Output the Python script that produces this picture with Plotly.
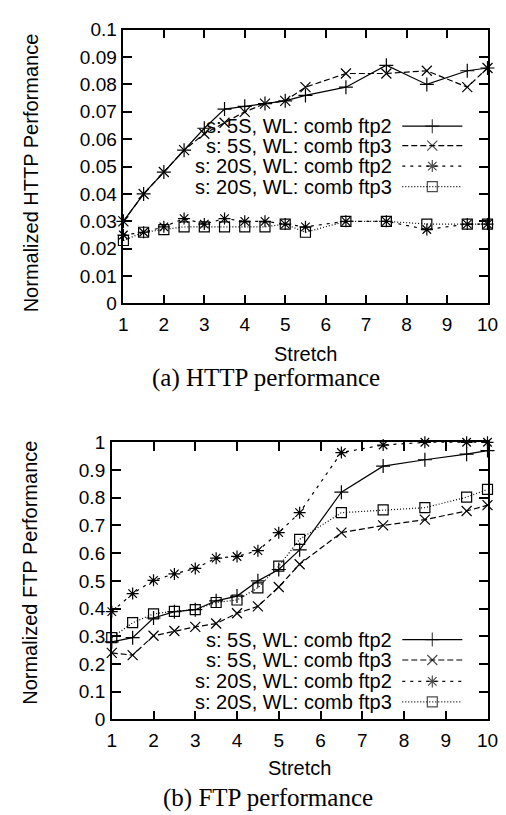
import plotly.graph_objects as go

W, H = 506, 815

stretch = [1, 1.5, 2, 2.5, 3, 3.5, 4, 4.5, 5, 5.5, 6.5, 7.5, 8.5, 9.5, 10]

# (a) HTTP performance
http_5s_ftp2 = [0.030, 0.040, 0.048, 0.056, 0.064, 0.071, 0.072, 0.073, 0.074, 0.076, 0.079, 0.087, 0.080, 0.085, 0.086]
http_5s_ftp3 = [0.030, 0.040, 0.048, 0.056, 0.062, 0.066, 0.070, 0.073, 0.074, 0.079, 0.084, 0.084, 0.085, 0.079, 0.086]
http_20s_ftp2 = [0.025, 0.026, 0.028, 0.031, 0.029, 0.031, 0.030, 0.030, 0.029, 0.028, 0.030, 0.030, 0.027, 0.029, 0.029]
http_20s_ftp3 = [0.023, 0.026, 0.027, 0.028, 0.028, 0.028, 0.028, 0.028, 0.029, 0.026, 0.030, 0.030, 0.029, 0.029, 0.029]

# (b) FTP performance
ftp_5s_ftp2 = [0.280, 0.295, 0.366, 0.389, 0.396, 0.428, 0.445, 0.500, 0.541, 0.612, 0.820, 0.914, 0.937, 0.957, 0.970]
ftp_5s_ftp3 = [0.240, 0.232, 0.302, 0.319, 0.334, 0.346, 0.383, 0.408, 0.478, 0.560, 0.674, 0.700, 0.721, 0.752, 0.773]
ftp_20s_ftp2 = [0.389, 0.454, 0.502, 0.525, 0.545, 0.582, 0.588, 0.609, 0.674, 0.746, 0.963, 0.990, 1.000, 1.000, 1.000]
ftp_20s_ftp3 = [0.295, 0.349, 0.381, 0.390, 0.396, 0.422, 0.431, 0.475, 0.553, 0.650, 0.746, 0.756, 0.764, 0.802, 0.830]

series_names = ["s: 5S, WL: comb ftp2", "s: 5S, WL: comb ftp3",
                "s: 20S, WL: comb ftp2", "s: 20S, WL: comb ftp3"]

x_ticks = [1, 2, 3, 4, 5, 6, 7, 8, 9, 10]
http_ticks = [0, 0.01, 0.02, 0.03, 0.04, 0.05, 0.06, 0.07, 0.08, 0.09, 0.1]
http_tick_text = ["0", "0.01", "0.02", "0.03", "0.04", "0.05", "0.06", "0.07", "0.08", "0.09", "0.1"]
ftp_ticks = [0, 0.1, 0.2, 0.3, 0.4, 0.5, 0.6, 0.7, 0.8, 0.9, 1]
ftp_tick_text = ["0", "0.1", "0.2", "0.3", "0.4", "0.5", "0.6", "0.7", "0.8", "0.9", "1"]

styles = [
    dict(dash="solid", symbol="cross-thin-open"),
    dict(dash="6px,3px", symbol="x-thin-open"),
    dict(dash="3px,5px", symbol="asterisk-open"),
    dict(dash="1px,2px", symbol="square-open"),
]

SANS = "Liberation Sans, Arial, sans-serif"
SERIF = "Liberation Serif, Times New Roman, serif"


def px_x(v):
    return v / W


def px_y(v):
    return 1 - v / H


fig = go.Figure()

panels = [
    ("x", "y", [http_5s_ftp2, http_5s_ftp3, http_20s_ftp2, http_20s_ftp3]),
    ("x2", "y2", [ftp_5s_ftp2, ftp_5s_ftp3, ftp_20s_ftp2, ftp_20s_ftp3]),
]
for xa, ya, data in panels:
    for vals, st, name in zip(data, styles, series_names):
        fig.add_trace(go.Scatter(
            x=stretch, y=vals, xaxis=xa, yaxis=ya, name=name,
            mode="lines+markers", cliponaxis=False, showlegend=False,
            line=dict(color="black", width=1.2, dash=st["dash"]),
            marker=dict(symbol=st["symbol"], size=10, color="black",
                        line=dict(color="black", width=1.2)),
        ))

# gnuplot-style keys: text right-aligned, sample to the right
legend_rows = [[111, 131, 152, 173], [638, 659, 681, 702]]
for rows in legend_rows:
    for row, st, name in zip(rows, styles, series_names):
        fig.add_trace(go.Scatter(
            x=[402, 433, 464], y=[row, row, row], xaxis="x3", yaxis="y3",
            mode="lines+markers", cliponaxis=False, showlegend=False,
            line=dict(color="black", width=1.2, dash=st["dash"]),
            marker=dict(symbol=st["symbol"], size=[0, 10, 0], color="black",
                        line=dict(color="black", width=1.2)),
        ))
        fig.add_annotation(x=px_x(393), y=px_y(row), xref="paper", yref="paper",
                           text=name, showarrow=False, xanchor="right", yanchor="middle",
                           font=dict(family=SANS, size=20, color="black"))

axis_common = dict(
    showgrid=False, zeroline=False, showline=True, mirror="ticks",
    linecolor="black", linewidth=1.5, ticks="inside", ticklen=9,
    tickwidth=1.5, tickcolor="black",
    tickfont=dict(family=SANS, size=19, color="black"),
)

fig.update_layout(
    width=W, height=H,
    margin=dict(l=0, r=0, t=0, b=0),
    paper_bgcolor="white", plot_bgcolor="rgba(0,0,0,0)",
    showlegend=False,
    xaxis=dict(domain=[px_x(114), px_x(490)], range=[1, 10], anchor="y",
               tickvals=x_ticks, ticklabelstandoff=3, **axis_common),
    yaxis=dict(domain=[px_y(293), px_y(12)], range=[0, 0.1], anchor="x",
               tickvals=http_ticks, ticktext=http_tick_text, ticklabelstandoff=1,
               **axis_common),
    xaxis2=dict(domain=[px_x(102), px_x(490)], range=[1, 10], anchor="y2",
                tickvals=x_ticks, ticklabelstandoff=3, **axis_common),
    yaxis2=dict(domain=[px_y(720), px_y(435.5)], range=[0, 1], anchor="x2",
                tickvals=ftp_ticks, ticktext=ftp_tick_text, ticklabelstandoff=1,
                **axis_common),
    xaxis3=dict(domain=[0, 1], range=[0, W], anchor="y3", visible=False, fixedrange=True),
    yaxis3=dict(domain=[0, 1], range=[H, 0], anchor="x3", visible=False, fixedrange=True),
)

texts = [
    ("Stretch", 302, 345, 0, SANS, 20),
    ("(a) HTTP performance", 261, 370, 0, SERIF, 25),
    ("Stretch", 296, 770, 0, SANS, 20),
    ("(b) FTP performance", 263, 801, 0, SERIF, 25),
    ("Normalized HTTP Performance", 18, 159, -90, SANS, 20),
    ("Normalized FTP Performance", 18, 569, -90, SANS, 20),
]
for text, tx, ty, ang, fam, size in texts:
    fig.add_annotation(x=px_x(tx), y=px_y(ty), xref="paper", yref="paper",
                       text=text, showarrow=False, textangle=ang,
                       xanchor="center", yanchor="middle",
                       font=dict(family=fam, size=size, color="black"))

fig.write_html("out.html")
